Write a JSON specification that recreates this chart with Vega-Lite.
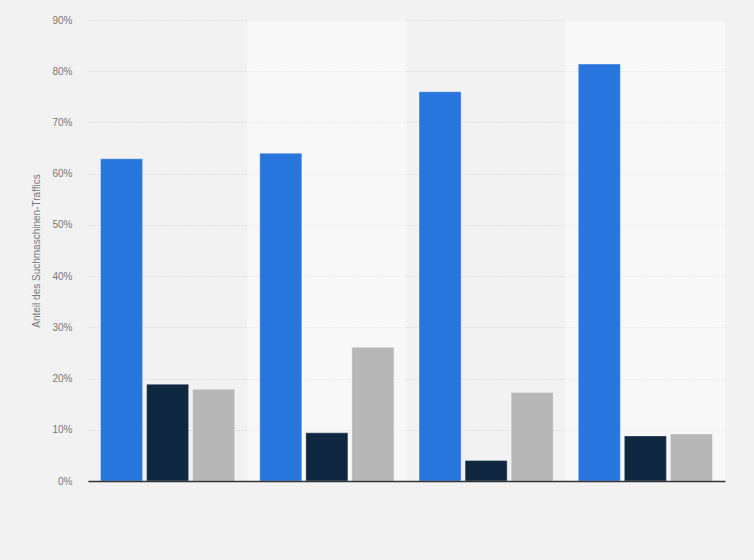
{
  "$schema": "https://vega.github.io/schema/vega-lite/v6.json",
  "autosize": {"type": "none"},
  "width": 637,
  "height": 461,
  "padding": {"left": 88, "top": 20, "right": 29, "bottom": 79},
  "background": "#f2f2f2",
  "config": {
    "view": {"stroke": null},
    "font": "Liberation Sans"
  },
  "datasets": {
    "traffic": [
      {"gruppe": "1", "serie": "A", "anteil": 0.629},
      {"gruppe": "1", "serie": "B", "anteil": 0.189},
      {"gruppe": "1", "serie": "C", "anteil": 0.179},
      {"gruppe": "2", "serie": "A", "anteil": 0.640},
      {"gruppe": "2", "serie": "B", "anteil": 0.094},
      {"gruppe": "2", "serie": "C", "anteil": 0.261},
      {"gruppe": "3", "serie": "A", "anteil": 0.760},
      {"gruppe": "3", "serie": "B", "anteil": 0.040},
      {"gruppe": "3", "serie": "C", "anteil": 0.173},
      {"gruppe": "4", "serie": "A", "anteil": 0.814},
      {"gruppe": "4", "serie": "B", "anteil": 0.088},
      {"gruppe": "4", "serie": "C", "anteil": 0.092}
    ],
    "baender": [
      {"gruppe": "2"},
      {"gruppe": "4"}
    ]
  },
  "encoding": {
    "x": {
      "field": "gruppe",
      "type": "nominal",
      "scale": {"domain": ["1", "2", "3", "4"], "paddingInner": 0, "paddingOuter": 0},
      "axis": {
        "title": null,
        "labels": false,
        "ticks": false,
        "domainColor": "#333333",
        "domainWidth": 1.5,
        "zindex": 1
      }
    }
  },
  "layer": [
    {
      "data": {"name": "baender"},
      "mark": {"type": "bar", "color": "#ffffff", "opacity": 0.45},
      "encoding": {}
    },
    {
      "data": {"name": "traffic"},
      "mark": {"type": "bar", "stroke": "#ffffff", "strokeOpacity": 0.35, "strokeWidth": 1},
      "encoding": {
        "xOffset": {
          "field": "serie",
          "type": "nominal",
          "scale": {"paddingInner": 0.087, "paddingOuter": 0.272}
        },
        "y": {
          "field": "anteil",
          "type": "quantitative",
          "scale": {"domain": [0, 0.9], "nice": false},
          "axis": {
            "title": "Anteil des Suchmaschinen-Traffics",
            "titleFontSize": 10,
            "titleFontWeight": "normal",
            "titleColor": "#777777",
            "titlePadding": 10,
            "format": "~%",
            "values": [0, 0.1, 0.2, 0.3, 0.4, 0.5, 0.6, 0.7, 0.8, 0.9],
            "labelFontSize": 10,
            "labelColor": "#777777",
            "labelPadding": 16,
            "domain": false,
            "ticks": false,
            "gridColor": "#c8c8c8",
            "gridDash": [1, 2],
            "gridWidth": 1
          }
        },
        "color": {
          "field": "serie",
          "type": "nominal",
          "scale": {"domain": ["A", "B", "C"], "range": ["#2876dd", "#0f2740", "#b7b7b7"]},
          "legend": null
        }
      }
    }
  ]
}
